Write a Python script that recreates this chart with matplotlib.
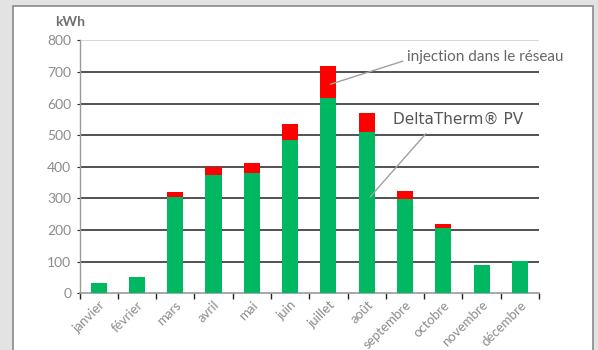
import matplotlib
matplotlib.use("Agg")
import matplotlib.pyplot as plt
from matplotlib.patches import Rectangle
import numpy as np

months = ["janvier", "février", "mars", "avril", "mai", "juin", "juillet",
          "août", "septembre", "octobre", "novembre", "décembre"]
deltatherm = [32, 51, 304, 374, 380, 485, 617, 510, 297, 206, 89, 102]
injection = [0, 0, 16, 26, 32, 50, 102, 60, 26, 13, 0, 0]
yticks = [0, 100, 200, 300, 400, 500, 600, 700, 800]

W, H = 598, 350
fig = plt.figure(figsize=(W / 100, H / 100), dpi=100)
fig.patch.set_facecolor("#e3e3e3")

# white panel with grey frame, drawn on a background axes
bg = fig.add_axes([0, 0, 1, 1], zorder=-5)
bg.set_axis_off()
bg.set_xlim(0, W)
bg.set_ylim(H, 0)
bg.add_patch(Rectangle((13, 6), 593 - 13, H + 10, facecolor="white",
                       edgecolor="#8a8a8a", linewidth=1.2))

left, right = 79.5 / W, 539 / W
bottom, top = 1 - 293.3 / H, 1 - 40.3 / H
ax = fig.add_axes([left, bottom, right - left, top - bottom], zorder=1)
ax.set_facecolor("none")

x = np.arange(len(months))
green = "#00b862"
red = "#ff0000"
ax.bar(x, deltatherm, width=0.42, color=green, zorder=3)
ax.bar(x, injection, width=0.42, bottom=deltatherm, color=red, zorder=3)

ax.set_xlim(-0.5, len(months) - 0.5)
ax.set_ylim(0, 800)
ax.set_yticks(yticks)
ax.set_yticklabels([str(v) for v in yticks], color="#8c8c8c",
                   fontsize=10, family="Lato")
for v in yticks[1:-1]:
    ax.axhline(v, color="#222222", linewidth=1.1, zorder=1)
ax.axhline(800, color="#cccccc", linewidth=1.1, zorder=1)

ax.set_xticks(x)
ax.set_xticklabels(months, rotation=45, ha="right", rotation_mode="anchor",
                   color="#8c8c8c", fontsize=9.5, family="Lato")
ax.tick_params(axis="x", length=0, pad=4)
ax.set_xticks(np.arange(-0.5, len(months), 1.0), minor=True)
ax.tick_params(axis="x", which="minor", length=4, color="#222222", width=1)
ax.tick_params(axis="y", length=2, color="#222222", pad=4)

for s in ["top", "right"]:
    ax.spines[s].set_visible(False)
ax.spines["left"].set_color("#9a9a9a")
ax.spines["bottom"].set_color("#9a9a9a")
ax.spines["left"].set_linewidth(1.0)
ax.spines["bottom"].set_linewidth(1.2)

ax.text(-0.053, 1.049, "kWh", transform=ax.transAxes, ha="left",
        va="bottom", fontsize=10, color="#707070", fontweight="bold",
        family="Lato")

ax.annotate("injection dans le réseau", xy=(6.05, 661), xytext=(8.05, 747),
            textcoords="data", ha="left", va="center", fontsize=11,
            color="#666666", family="Lato",
            arrowprops=dict(arrowstyle="-", color="#a0a0a0", lw=1,
                            shrinkA=1, shrinkB=0, relpos=(0, 0.3)))
ax.annotate("DeltaTherm® PV", xy=(7.09, 305), xytext=(7.69, 551),
            textcoords="data", ha="left", va="center", fontsize=11,
            color="#555555", family="DejaVu Sans",
            arrowprops=dict(arrowstyle="-", color="#a0a0a0", lw=1,
                            shrinkA=4, shrinkB=0, relpos=(0.3, 0)))

fig.savefig("out.png", dpi=100, facecolor=fig.get_facecolor())
